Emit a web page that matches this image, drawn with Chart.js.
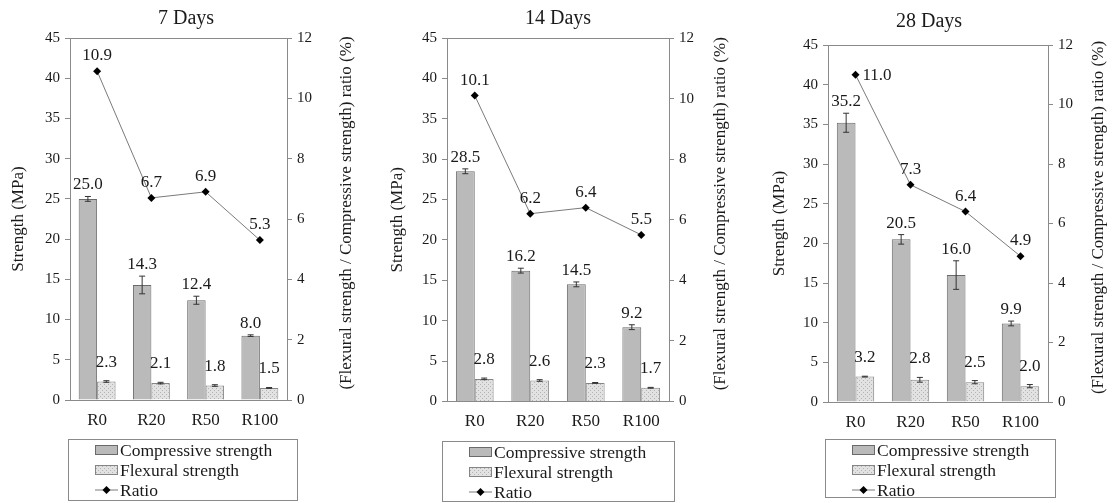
<!DOCTYPE html>
<html>
<head>
<meta charset="utf-8">
<script src="https://cdn.jsdelivr.net/npm/chart.js@4.4.1/dist/chart.umd.min.js"></script>
<style>
  body { margin: 0; background: #fff; font-family: 'Liberation Serif', serif; }
  #wrap { position: relative; width: 1115px; height: 503px; overflow: hidden; }
  .panel { position: absolute; top: 0; width: 372px; height: 503px; }
</style>
</head>
<body>
<div id="wrap">
  <div class="panel" style="left:0px"><canvas id="c7" width="372" height="503"></canvas></div>
  <div class="panel" style="left:372px"><canvas id="c14" width="372" height="503"></canvas></div>
  <div class="panel" style="left:743px"><canvas id="c28" width="372" height="503"></canvas></div>
</div>
<script>
const categories = ['R0', 'R20', 'R50', 'R100'];
const panelTitles = ['7 Days', '14 Days', '28 Days'];
const seriesNames = ['Compressive strength', 'Flexural strength', 'Ratio'];
const strengthAxisTitle = 'Strength (MPa)';
const ratioAxisTitle = '(Flexural strength / Compressive strength) ratio (%)';

// 7 days
const compressive7 = [25.0, 14.3, 12.4, 8.0];
const compressiveErr7 = [0.3, 1.1, 0.5, 0.1];
const flexural7 = [2.3, 2.1, 1.8, 1.5];
const flexuralErr7 = [0.1, 0.1, 0.1, 0.05];
const ratio7 = [10.9, 6.7, 6.9, 5.3];

// 14 days
const compressive14 = [28.5, 16.2, 14.5, 9.2];
const compressiveErr14 = [0.3, 0.3, 0.3, 0.3];
const flexural14 = [2.8, 2.6, 2.3, 1.7];
const flexuralErr14 = [0.1, 0.1, 0.05, 0.05];
const ratio14 = [10.1, 6.2, 6.4, 5.5];

// 28 days
const compressive28 = [35.2, 20.5, 16.0, 9.9];
const compressiveErr28 = [1.2, 0.6, 1.8, 0.3];
const flexural28 = [3.2, 2.8, 2.5, 2.0];
const flexuralErr28 = [0.05, 0.3, 0.2, 0.2];
const ratio28 = [11.0, 7.3, 6.4, 4.9];

// axis ranges
const strengthMax = 45, strengthStep = 5;
const ratioMax = 12, ratioStep = 2;

const FONT = "'Liberation Serif', Tinos, 'DejaVu Serif', serif";
const TEXT = '#1a1a1a';
const AXIS = '#8a8a8a';

// layout of each panel (canvas coords)
const panels = [
  { id: 'c7', comp: compressive7, compErr: compressiveErr7, flex: flexural7, flexErr: flexuralErr7, ratio: ratio7,
    left: 70, right: 287, titlePad: [7, 7], bottomPad: 73, yTitlePad: 8.8, rTitleX: 347,
    legend: [68, 439, 229, 61], ratioLabelRight: -1 },
  { id: 'c14', comp: compressive14, compErr: compressiveErr14, flex: flexural14, flexErr: flexuralErr14, ratio: ratio14,
    left: 75, right: 297, titlePad: [7, 7], bottomPad: 71.5, yTitlePad: 15.8, rTitleX: 349,
    legend: [70, 441, 232, 60], ratioLabelRight: -1 },
  { id: 'c28', comp: compressive28, compErr: compressiveErr28, flex: flexural28, flexErr: flexuralErr28, ratio: ratio28,
    left: 85, right: 305, titlePad: [10, 11], bottomPad: 71, yTitlePad: 26.8, rTitleX: 356,
    legend: [82, 439, 230, 58], ratioLabelRight: 0 }
];

function dotPattern() {
  const c = document.createElement('canvas');
  c.width = 4; c.height = 4;
  const g = c.getContext('2d');
  g.fillStyle = '#e2e2e2';
  g.fillRect(0, 0, 4, 4);
  g.fillStyle = '#b4b4b4';
  g.fillRect(0, 0, 1, 1);
  g.fillRect(2, 2, 1, 1);
  return g.createPattern(c, 'repeat');
}

// error bars, value labels, right axis title, box and legend
const extras = {
  id: 'extras',
  afterDatasetsDraw(chart, args, opts) {
    const ctx = chart.ctx;
    const yS = chart.scales.y;
    const area = chart.chartArea;
    ctx.save();

    // top border of the plot box
    ctx.strokeStyle = AXIS;
    ctx.lineWidth = 1;
    ctx.beginPath();
    ctx.moveTo(area.left, area.top + 0.5);
    ctx.lineTo(area.right, area.top + 0.5);
    ctx.stroke();

    ctx.font = '17px ' + FONT;
    ctx.fillStyle = TEXT;
    ctx.textAlign = 'center';
    ctx.textBaseline = 'bottom';

    chart.data.datasets.forEach((ds, di) => {
      const meta = chart.getDatasetMeta(di);
      if (ds.type === 'line') {
        meta.data.forEach((pt, i) => {
          if (i === opts.ratioLabelRight) {
            ctx.textAlign = 'left';
            ctx.textBaseline = 'middle';
            ctx.fillText(ds.data[i].toFixed(1), pt.x + 7, pt.y + 1);
            ctx.textAlign = 'center';
            ctx.textBaseline = 'bottom';
          } else {
            ctx.fillText(ds.data[i].toFixed(1), pt.x, pt.y - 7);
          }
        });
        return;
      }
      meta.data.forEach((bar, i) => {
        const v = ds.data[i], e = ds.errors[i];
        const top = yS.getPixelForValue(v + e);
        const bot = yS.getPixelForValue(v - e);
        ctx.strokeStyle = '#333';
        ctx.lineWidth = 1;
        ctx.beginPath();
        ctx.moveTo(bar.x, top); ctx.lineTo(bar.x, bot);
        ctx.moveTo(bar.x - 3, top); ctx.lineTo(bar.x + 3, top);
        ctx.moveTo(bar.x - 3, bot); ctx.lineTo(bar.x + 3, bot);
        ctx.stroke();
        ctx.fillText(v.toFixed(1), bar.x, top - ds.labelGap);
      });
    });

    // right axis title, reading bottom to top
    ctx.save();
    ctx.font = '17px ' + FONT;
    ctx.textAlign = 'center';
    ctx.textBaseline = 'middle';
    ctx.translate(opts.rTitleX, (area.top + area.bottom) / 2 - 6);
    ctx.rotate(-Math.PI / 2);
    ctx.fillText(ratioAxisTitle, 0, 0);
    ctx.restore();

    // legend
    const [lx, ly, lw, lh] = opts.legend;
    ctx.strokeStyle = AXIS;
    ctx.lineWidth = 1;
    ctx.strokeRect(lx + 0.5, ly + 0.5, lw, lh);
    ctx.font = '17.5px ' + FONT;
    ctx.textAlign = 'left';
    ctx.textBaseline = 'middle';
    chart.data.datasets.forEach((ds, di) => {
      const cy = ly + 11 + di * 20;
      const sx = lx + 27;
      if (ds.type === 'line') {
        ctx.strokeStyle = ds.borderColor;
        ctx.beginPath();
        ctx.moveTo(sx, cy); ctx.lineTo(sx + 23, cy);
        ctx.stroke();
        ctx.fillStyle = '#000';
        ctx.beginPath();
        ctx.moveTo(sx + 11.5, cy - 4); ctx.lineTo(sx + 15.5, cy);
        ctx.lineTo(sx + 11.5, cy + 4); ctx.lineTo(sx + 7.5, cy);
        ctx.closePath();
        ctx.fill();
      } else {
        ctx.fillStyle = ds.backgroundColor;
        ctx.fillRect(sx, cy - 5, 23, 10);
        ctx.strokeStyle = ds.borderColor;
        ctx.strokeRect(sx + 0.5, cy - 4.5, 22, 9);
      }
      ctx.fillStyle = TEXT;
      ctx.fillText(ds.label, sx + 25, cy + 1);
    });
    ctx.restore();
  }
};

function drawPanels() {
  panels.forEach((p, k) => {
    const canvas = document.getElementById(p.id);
    new Chart(canvas.getContext('2d'), {
      data: {
        labels: categories,
        datasets: [
          { type: 'bar', label: seriesNames[0], data: p.comp, errors: p.compErr, labelGap: 3, yAxisID: 'y', order: 1,
            backgroundColor: '#bababa', borderColor: '#6a6a6a', borderWidth: 1,
            categoryPercentage: 0.68, barPercentage: 1.0 },
          { type: 'bar', label: seriesNames[1], data: p.flex, errors: p.flexErr, labelGap: 10, yAxisID: 'y', order: 1,
            backgroundColor: dotPattern(), borderColor: '#858585', borderWidth: 1,
            categoryPercentage: 0.68, barPercentage: 1.0 },
          { type: 'line', label: seriesNames[2], data: p.ratio, yAxisID: 'y1', order: 0,
            borderColor: '#7a7a7a', borderWidth: 1, pointStyle: 'rectRot', pointRadius: 4,
            pointBackgroundColor: '#000', pointBorderColor: '#000', pointBorderWidth: 0 }
        ]
      },
      options: {
        responsive: false,
        animation: false,
        layout: { padding: { left: 0, right: 0, top: 0, bottom: p.bottomPad } },
        plugins: {
          legend: { display: false },
          tooltip: { enabled: false },
          title: {
            display: true, text: panelTitles[k], color: TEXT,
            font: { family: FONT, size: 20, weight: 'normal' },
            padding: { top: p.titlePad[0], bottom: p.titlePad[1] }
          },
          extras: { rTitleX: p.rTitleX, legend: p.legend, ratioLabelRight: p.ratioLabelRight }
        },
        scales: {
          x: {
            grid: { display: true, drawOnChartArea: false, drawTicks: false },
            border: { color: AXIS },
            ticks: { color: TEXT, font: { family: FONT, size: 17 }, padding: 10 },
            afterFit: s => { s.height = 30; }
          },
          y: {
            position: 'left', min: 0, max: strengthMax,
            ticks: { stepSize: strengthStep, color: TEXT, font: { family: FONT, size: 15 }, padding: 5 },
            grid: { drawOnChartArea: false, tickLength: 5, color: AXIS },
            border: { color: AXIS },
            title: { display: true, text: strengthAxisTitle, color: TEXT,
                     font: { family: FONT, size: 17 }, padding: { top: p.yTitlePad, bottom: 0 } },
            afterFit: s => { s.width = p.left; }
          },
          y1: {
            position: 'right', min: 0, max: ratioMax,
            ticks: { stepSize: ratioStep, color: TEXT, font: { family: FONT, size: 15 }, padding: 5 },
            grid: { drawOnChartArea: false, tickLength: 5, color: AXIS },
            border: { color: AXIS },
            afterFit: s => { s.width = 372 - p.right; }
          }
        }
      },
      plugins: [extras]
    });
  });
}

// canvas text needs the serif face loaded before the first draw
if (document.fonts && document.fonts.load) {
  Promise.all([
    document.fonts.load("17px 'Liberation Serif'"),
    document.fonts.load("17px Tinos")
  ]).catch(() => null).then(drawPanels);
} else {
  drawPanels();
}
</script>
</body>
</html>
